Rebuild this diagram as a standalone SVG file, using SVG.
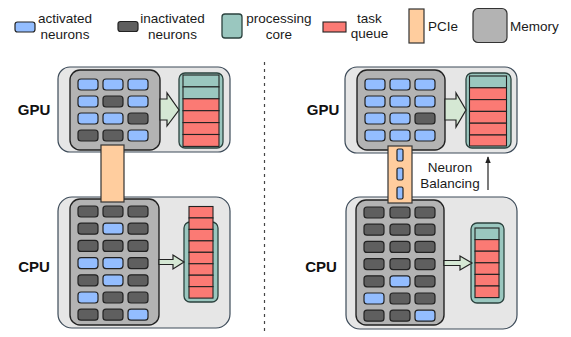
<svg xmlns="http://www.w3.org/2000/svg" width="571" height="337" viewBox="0 0 571 337">
  <style>
    .txt { font-family: "Liberation Sans", Arial, sans-serif; font-size: 13.5px; fill: #1a1a1a; }
    .lbl { font-family: "Liberation Sans", Arial, sans-serif; font-size: 15px; font-weight: bold; fill: #111; }
    .outer { fill: #e6e6e6; stroke: #3d4b59; stroke-width: 1.2; }
    .mem { fill: #b3b3b3; stroke: #222; stroke-width: 1.4; }
    .act { fill: #93bdff; stroke: #222; stroke-width: 1.2; }
    .ina { fill: #5f5f5f; stroke: #222; stroke-width: 1.2; }
    .core { fill: #9ac7bf; stroke: #2b423e; stroke-width: 1.3; }
    .tq { fill: #fb7a74; stroke: #222; stroke-width: 1.1; }
    .tc { fill: #9ac7bf; stroke: #222; stroke-width: 1.1; }
    .pcie { fill: #ffcd9e; stroke: #333; stroke-width: 1.2; }
    .flow { fill: #d5e8d4; stroke: #222; stroke-width: 1.2; stroke-linejoin: miter; }
    .div { stroke: #444; stroke-width: 1.2; stroke-dasharray: 3 4; fill: none; }
  </style>
  <defs>
    <marker id="tip" viewBox="0 0 10 10" refX="9" refY="5" markerWidth="6" markerHeight="6" orient="auto">
      <path d="M0,1 L10,5 L0,9 z" fill="#222"/>
    </marker>
  </defs>

  <!-- legend -->
  <g id="legend">
    <rect class="act" x="15" y="22" width="20" height="10" rx="2.5"/>
    <text class="txt" x="65" y="23" text-anchor="middle">activated</text>
    <text class="txt" x="65" y="39" text-anchor="middle">neurons</text>
    <rect class="ina" x="118" y="21.5" width="20" height="10" rx="2.5"/>
    <text class="txt" x="172.5" y="23" text-anchor="middle">inactivated</text>
    <text class="txt" x="172.5" y="39" text-anchor="middle">neurons</text>
    <rect class="core" x="222" y="14" width="20" height="24" rx="3"/>
    <text class="txt" x="279" y="23" text-anchor="middle">processing</text>
    <text class="txt" x="279" y="39" text-anchor="middle">core</text>
    <rect class="tq" x="323" y="22" width="23" height="10"/>
    <text class="txt" x="369.5" y="23" text-anchor="middle">task</text>
    <text class="txt" x="369.5" y="38" text-anchor="middle">queue</text>
    <rect class="pcie" x="409" y="9" width="15" height="34"/>
    <text class="txt" x="428" y="31">PCIe</text>
    <rect x="473" y="8.5" width="34" height="34" rx="5" fill="#b3b3b3" stroke="#333" stroke-width="1.2"/>
    <text class="txt" x="510" y="31">Memory</text>
  </g>

  <!-- divider between the two setups -->
  <line class="div" x1="264.5" y1="62" x2="264.5" y2="334"/>

  <!-- ===== left: before balancing ===== -->
  <g id="gpu-left">
    <rect class="outer" x="58" y="67" width="172" height="85" rx="12"/>
    <text class="lbl" x="34" y="115" text-anchor="middle">GPU</text>
    <rect class="mem" x="70" y="70" width="90" height="80" rx="10"/>
    <rect class="act" x="78" y="79" width="20" height="11" rx="3"/>
    <rect class="act" x="103" y="79" width="20" height="11" rx="3"/>
    <rect class="act" x="128" y="79" width="20" height="11" rx="3"/>
    <rect class="act" x="78" y="96" width="20" height="11" rx="3"/>
    <rect class="ina" x="103" y="96" width="20" height="11" rx="3"/>
    <rect class="act" x="128" y="96" width="20" height="11" rx="3"/>
    <rect class="act" x="78" y="113" width="20" height="11" rx="3"/>
    <rect class="act" x="103" y="113" width="20" height="11" rx="3"/>
    <rect class="ina" x="128" y="113" width="20" height="11" rx="3"/>
    <rect class="ina" x="78" y="130" width="20" height="11" rx="3"/>
    <rect class="ina" x="103" y="130" width="20" height="11" rx="3"/>
    <rect class="act" x="128" y="130" width="20" height="11" rx="3"/>
    <rect class="core" x="179" y="73" width="44" height="75" rx="6"/>
    <rect class="tc" x="183" y="75" width="36" height="11.9"/>
    <rect class="tc" x="183" y="86.9" width="36" height="11.9"/>
    <rect class="tq" x="183" y="98.8" width="36" height="11.9"/>
    <rect class="tq" x="183" y="110.7" width="36" height="11.9"/>
    <rect class="tq" x="183" y="122.6" width="36" height="11.9"/>
    <rect class="tq" x="183" y="134.5" width="36" height="11.9"/>
  </g>

  <g id="cpu-left">
    <rect class="outer" x="58" y="197" width="172" height="131" rx="14"/>
    <text class="lbl" x="34" y="272" text-anchor="middle">CPU</text>
    <rect class="mem" x="70" y="199" width="89" height="126" rx="10"/>
    <rect class="ina" x="78" y="206" width="20" height="11" rx="3"/>
    <rect class="ina" x="103" y="206" width="20" height="11" rx="3"/>
    <rect class="ina" x="128" y="206" width="20" height="11" rx="3"/>
    <rect class="ina" x="78" y="223.2" width="20" height="11" rx="3"/>
    <rect class="act" x="103" y="223.2" width="20" height="11" rx="3"/>
    <rect class="ina" x="128" y="223.2" width="20" height="11" rx="3"/>
    <rect class="ina" x="78" y="240.4" width="20" height="11" rx="3"/>
    <rect class="ina" x="103" y="240.4" width="20" height="11" rx="3"/>
    <rect class="ina" x="128" y="240.4" width="20" height="11" rx="3"/>
    <rect class="act" x="78" y="257.6" width="20" height="11" rx="3"/>
    <rect class="act" x="103" y="257.6" width="20" height="11" rx="3"/>
    <rect class="ina" x="128" y="257.6" width="20" height="11" rx="3"/>
    <rect class="ina" x="78" y="274.8" width="20" height="11" rx="3"/>
    <rect class="act" x="103" y="274.8" width="20" height="11" rx="3"/>
    <rect class="ina" x="128" y="274.8" width="20" height="11" rx="3"/>
    <rect class="act" x="78" y="292" width="20" height="11" rx="3"/>
    <rect class="ina" x="103" y="292" width="20" height="11" rx="3"/>
    <rect class="ina" x="128" y="292" width="20" height="11" rx="3"/>
    <rect class="ina" x="78" y="309.2" width="20" height="11" rx="3"/>
    <rect class="ina" x="103" y="309.2" width="20" height="11" rx="3"/>
    <rect class="act" x="128" y="309.2" width="20" height="11" rx="3"/>
    <rect class="core" x="184" y="222" width="34" height="80" rx="6"/>
    <rect class="tq" x="189" y="206.5" width="24" height="11.45"/>
    <rect class="tq" x="189" y="217.95" width="24" height="11.45"/>
    <rect class="tq" x="189" y="229.4" width="24" height="11.45"/>
    <rect class="tq" x="189" y="240.85" width="24" height="11.45"/>
    <rect class="tq" x="189" y="252.3" width="24" height="11.45"/>
    <rect class="tq" x="189" y="263.75" width="24" height="11.45"/>
    <rect class="tq" x="189" y="275.2" width="24" height="11.45"/>
    <rect class="tq" x="189" y="286.65" width="24" height="11.45"/>
  </g>

  <g id="pcie-left">
    <rect class="pcie" x="101" y="145" width="23" height="57"/>
  </g>

  <!-- ===== right: after balancing ===== -->
  <g id="gpu-right">
    <rect class="outer" x="345" y="67" width="172" height="86" rx="12"/>
    <text class="lbl" x="323" y="115" text-anchor="middle">GPU</text>
    <rect class="mem" x="357" y="70" width="88" height="80" rx="10"/>
    <rect class="act" x="365" y="79" width="20" height="11" rx="3"/>
    <rect class="act" x="390" y="79" width="20" height="11" rx="3"/>
    <rect class="act" x="415" y="79" width="20" height="11" rx="3"/>
    <rect class="act" x="365" y="96" width="20" height="11" rx="3"/>
    <rect class="act" x="390" y="96" width="20" height="11" rx="3"/>
    <rect class="act" x="415" y="96" width="20" height="11" rx="3"/>
    <rect class="act" x="365" y="113" width="20" height="11" rx="3"/>
    <rect class="act" x="390" y="113" width="20" height="11" rx="3"/>
    <rect class="ina" x="415" y="113" width="20" height="11" rx="3"/>
    <rect class="act" x="365" y="130" width="20" height="11" rx="3"/>
    <rect class="act" x="390" y="130" width="20" height="11" rx="3"/>
    <rect class="act" x="415" y="130" width="20" height="11" rx="3"/>
    <rect class="core" x="466" y="73" width="45" height="75" rx="6"/>
    <rect class="tc" x="469.5" y="76" width="37" height="11.8"/>
    <rect class="tq" x="469.5" y="87.8" width="37" height="11.8"/>
    <rect class="tq" x="469.5" y="99.6" width="37" height="11.8"/>
    <rect class="tq" x="469.5" y="111.4" width="37" height="11.8"/>
    <rect class="tq" x="469.5" y="123.2" width="37" height="11.8"/>
    <rect class="tq" x="469.5" y="135" width="37" height="11"/>
  </g>

  <g id="cpu-right">
    <rect class="outer" x="346" y="197" width="171" height="132" rx="14"/>
    <text class="lbl" x="321" y="272" text-anchor="middle">CPU</text>
    <rect class="mem" x="356" y="200" width="88" height="125" rx="10"/>
    <rect class="ina" x="364" y="207" width="20" height="11" rx="3"/>
    <rect class="ina" x="390" y="207" width="20" height="11" rx="3"/>
    <rect class="ina" x="415" y="207" width="20" height="11" rx="3"/>
    <rect class="ina" x="364" y="224.2" width="20" height="11" rx="3"/>
    <rect class="ina" x="390" y="224.2" width="20" height="11" rx="3"/>
    <rect class="ina" x="415" y="224.2" width="20" height="11" rx="3"/>
    <rect class="ina" x="364" y="241.4" width="20" height="11" rx="3"/>
    <rect class="ina" x="390" y="241.4" width="20" height="11" rx="3"/>
    <rect class="ina" x="415" y="241.4" width="20" height="11" rx="3"/>
    <rect class="ina" x="364" y="258.6" width="20" height="11" rx="3"/>
    <rect class="ina" x="390" y="258.6" width="20" height="11" rx="3"/>
    <rect class="ina" x="415" y="258.6" width="20" height="11" rx="3"/>
    <rect class="ina" x="364" y="275.8" width="20" height="11" rx="3"/>
    <rect class="act" x="390" y="275.8" width="20" height="11" rx="3"/>
    <rect class="ina" x="415" y="275.8" width="20" height="11" rx="3"/>
    <rect class="act" x="364" y="293" width="20" height="11" rx="3"/>
    <rect class="ina" x="390" y="293" width="20" height="11" rx="3"/>
    <rect class="ina" x="415" y="293" width="20" height="11" rx="3"/>
    <rect class="ina" x="364" y="310.2" width="20" height="11" rx="3"/>
    <rect class="ina" x="390" y="310.2" width="20" height="11" rx="3"/>
    <rect class="act" x="415" y="310.2" width="20" height="11" rx="3"/>
    <rect class="core" x="471" y="223" width="33" height="80" rx="6"/>
    <rect class="tc" x="475" y="228" width="24" height="11.6"/>
    <rect class="tq" x="475" y="239.6" width="24" height="11.6"/>
    <rect class="tq" x="475" y="251.2" width="24" height="11.6"/>
    <rect class="tq" x="475" y="262.8" width="24" height="11.6"/>
    <rect class="tq" x="475" y="274.4" width="24" height="11.6"/>
    <rect class="tq" x="475" y="286" width="24" height="11.6"/>
  </g>

  <g id="pcie-right">
    <rect class="pcie" x="388" y="146" width="24" height="57"/>
    <rect class="act" x="397" y="149" width="6" height="12" rx="1.5"/>
    <rect class="act" x="397" y="168" width="6" height="12" rx="1.5"/>
    <rect class="act" x="397" y="187" width="6" height="12" rx="1.5"/>
  </g>

  <g id="balancing-note">
    <text class="txt" x="450" y="172" text-anchor="middle">Neuron</text>
    <text class="txt" x="450" y="188" text-anchor="middle">Balancing</text>
  </g>

  <!-- connectors -->
  <g id="connectors">
    <polygon class="flow" points="160,99 167,99 167,93 179,110 167,126 167,120 160,120"/>
    <polygon class="flow" points="159,259.5 173,259.5 173,255 184,262 173,269 173,264.5 159,264.5"/>
    <polygon class="flow" points="445,99 456,99 456,93 466,110 456,127 456,120 445,120"/>
    <polygon class="flow" points="444,260.5 460,260.5 460,256 472,263 460,270 460,265.5 444,265.5"/>
    <line x1="488" y1="190" x2="488" y2="157" stroke="#222" stroke-width="1.2" marker-end="url(#tip)"/>
  </g>
</svg>
